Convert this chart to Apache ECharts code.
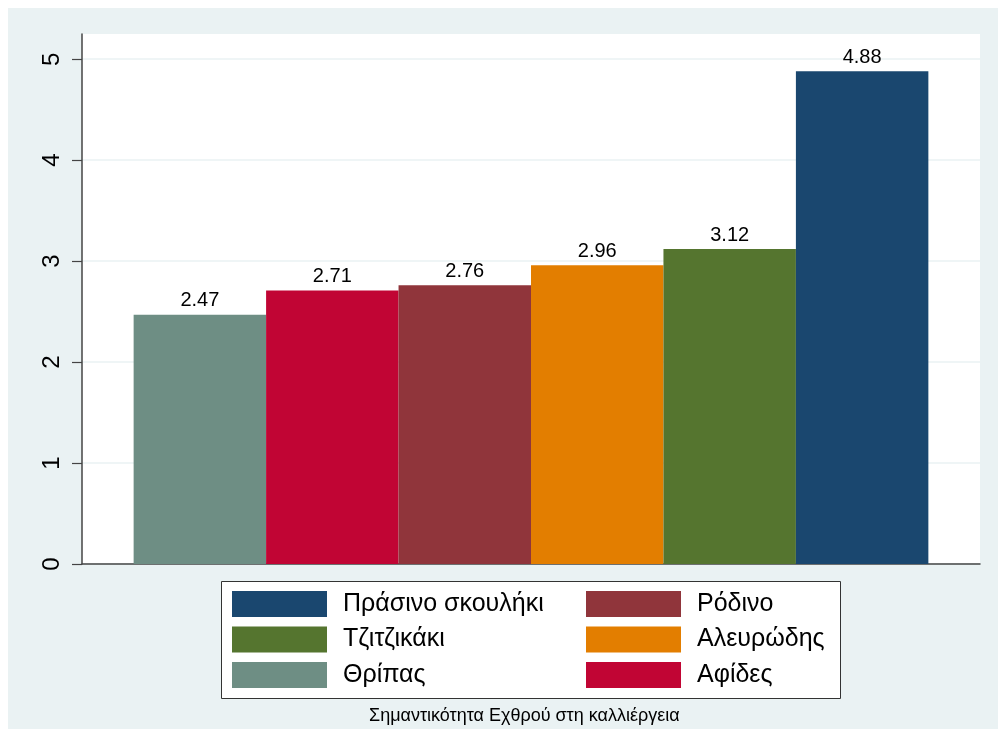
<!DOCTYPE html>
<html>
<head>
<meta charset="utf-8">
<script src="https://cdn.jsdelivr.net/npm/echarts@6/dist/echarts.min.js"></script>
<style>
html,body{margin:0;padding:0;background:#fff;width:998px;height:729px;overflow:hidden;}
#chart{position:absolute;left:8px;top:8px;width:990px;height:721px;background:#EAF2F3;}
</style>
</head>
<body>
<div id="chart"></div>
<script>
// Data (left-to-right bar order)
const seriesNames = ['Θρίπας', 'Αφίδες', 'Ρόδινο', 'Αλευρώδης', 'Τζιτζικάκι', 'Πράσινο σκουλήκι'];
const seriesValues = [2.47, 2.71, 2.76, 2.96, 3.12, 4.88];
const seriesColors = ['#6E8E84', '#C10534', '#90353B', '#E37E00', '#55752F', '#1A476F'];
const yTicks = [0, 1, 2, 3, 4, 5];
const legendLeftCol = ['Πράσινο σκουλήκι', 'Τζιτζικάκι', 'Θρίπας'];
const legendRightCol = ['Ρόδινο', 'Αλευρώδης', 'Αφίδες'];
const xTitle = 'Σημαντικότητα Εχθρού στη καλλιέργεια';

const FONT = 'Liberation Sans, Arial, sans-serif';
const chart = echarts.init(document.getElementById('chart'), null, {renderer: 'canvas'});

const legendCommon = {
  orient: 'vertical',
  itemWidth: 95,
  itemHeight: 26,
  itemGap: 9.5,
  icon: 'rect',
  selectedMode: false,
  padding: 0,
  textStyle: {fontFamily: FONT, fontSize: 25, color: '#000', padding: [0, 0, 0, 11], lineHeight: 26}
};

const option = {
  animation: false,
  backgroundColor: 'transparent',
  textStyle: {fontFamily: FONT},
  title: {
    text: xTitle,
    left: 361,
    top: 699,
    padding: 0,
    textStyle: {fontFamily: FONT, fontSize: 18, fontWeight: 'normal', color: '#000'}
  },
  grid: {
    left: 74, top: 26, right: 18, bottom: 165,
    show: true, backgroundColor: '#fff', borderWidth: 0,
    containLabel: false
  },
  graphic: [{
    type: 'rect',
    left: 213, top: 573,
    shape: {width: 619, height: 117},
    style: {fill: '#fff', stroke: '#333', lineWidth: 1},
    z: -1
  }],
  legend: [
    Object.assign({}, legendCommon, {data: legendLeftCol, left: 224, top: 583}),
    Object.assign({}, legendCommon, {data: legendRightCol, left: 578, top: 583})
  ],
  xAxis: {
    type: 'category',
    data: [''],
    axisLine: {show: true, lineStyle: {color: '#444', width: 1.5}},
    axisTick: {show: false},
    axisLabel: {show: false},
    splitLine: {show: false}
  },
  yAxis: {
    type: 'value',
    min: 0,
    max: 5.25,
    interval: 1,
    axisLine: {show: true, lineStyle: {color: '#444', width: 1.5}},
    axisTick: {show: true, length: 10, lineStyle: {color: '#444', width: 1.2}, customValues: yTicks},
    axisLabel: {
      customValues: yTicks,
      rotate: 90, margin: 18,
      fontFamily: FONT, fontSize: 24, color: '#000'
    },
    splitLine: {show: true, lineStyle: {color: '#EAF2F3', width: 1.5}}
  },
  series: seriesNames.map((name, i) => ({
    name: name,
    type: 'bar',
    data: [seriesValues[i]],
    barGap: '0%',
    barCategoryGap: '11.5%',
    itemStyle: {color: seriesColors[i]},
    label: {
      show: true, position: 'top', distance: 4,
      fontFamily: FONT, fontSize: 20, color: '#000',
      formatter: p => p.value.toFixed(2)
    }
  }))
};
chart.setOption(option);
</script>
</body>
</html>
